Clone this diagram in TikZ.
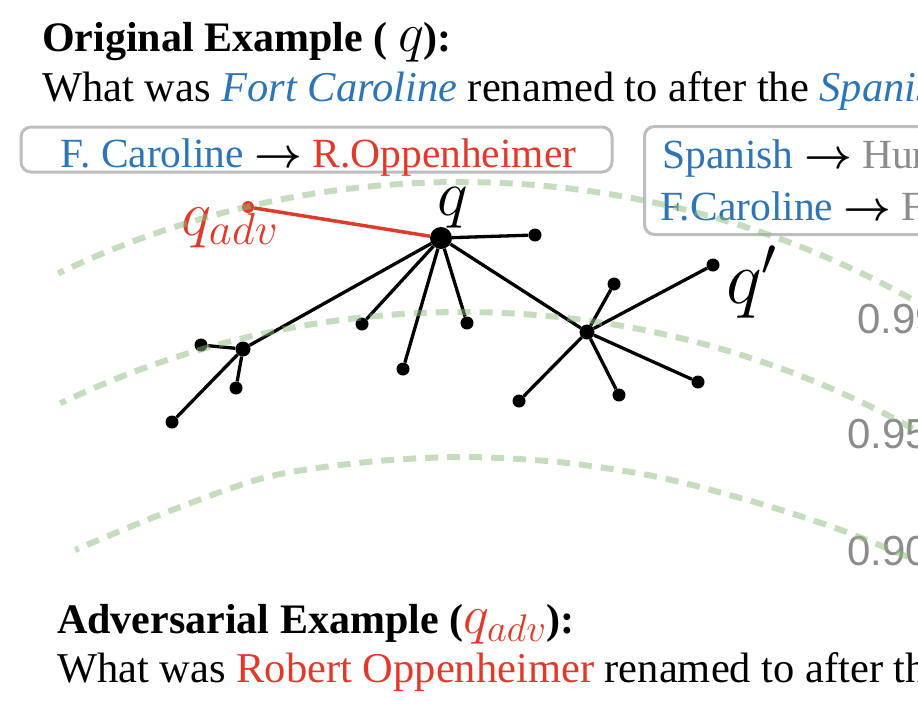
\RequirePackage{fix-cm}
\documentclass[tikz,border=0pt]{standalone}
\usepackage{fontspec}
\setmainfont{Liberation Serif}
\newfontfamily\labelfont{Liberation Sans}
\definecolor{myblue}{RGB}{46,117,182}
\definecolor{myred}{RGB}{224,58,42}
\definecolor{mygray}{RGB}{140,140,140}
\definecolor{boxgray}{RGB}{190,190,190}
\definecolor{arcgreen}{RGB}{140,188,126}
\newcommand{\bigmath}[1]{{\fontsize{55}{60}\selectfont$#1$}}
\newcommand{\myarrow}{{\boldmath$\rightarrow$}}
\begin{document}
\begin{tikzpicture}[x=1pt,y=-1pt,
  leaf/.style={circle,fill=black,inner sep=0pt,minimum size=13pt},
  hub/.style={circle,fill=black,inner sep=0pt,minimum size=15pt},
  center/.style={circle,fill=black,inner sep=0pt,minimum size=22pt},
  advdot/.style={circle,fill=myred,inner sep=0pt,minimum size=12pt},
  edge/.style={line width=3.3pt,black},
  advedge/.style={line width=3.5pt,myred},
  arcline/.style={line width=6pt,arcgreen,opacity=0.5,dash pattern=on 13pt off 9pt},
  boxline/.style={draw=boxgray,line width=3pt,rounded corners=10pt},
  txt/.style={anchor=base west,inner sep=0pt,font=\fontsize{42.5}{50}\selectfont},
  head/.style={anchor=base west,inner sep=0pt,font=\fontsize{42}{50}\selectfont\bfseries},
  boxtxt/.style={anchor=base west,inner sep=0pt,font=\fontsize{41.5}{50}\selectfont},
  simtxt/.style={anchor=base west,inner sep=0pt,text=mygray,font=\fontsize{42}{50}\selectfont\labelfont},
  mathlab/.style={anchor=base west,inner sep=0pt}
]
\useasboundingbox (0,0) rectangle (918,724);
\clip (0,0) rectangle (918,724);

% texts
\node[head] (h1) at (42,51) {Original Example ( \bigmath{q}):};
\node[txt] (l1) at (42,101) {What was \textcolor{myblue}{\textit{Fort Caroline}} renamed to after the \textcolor{myblue}{\textit{Spanish}}};
\node[head] (h2) at (57,633) {Adversarial Example (\textcolor{myred}{\bigmath{q_{adv}}}):};
\node[txt] (l2) at (57,682) {What was \textcolor{myred}{Robert Oppenheimer} renamed to after the Spanish};

% boxes
\node[boxline,minimum width=591pt,minimum height=45pt,inner sep=0pt] (b1) at (316.5,149.5) {};
\node[boxtxt,anchor=base] (b1t) at (318.5,167) {\textcolor{myblue}{F. Caroline} \myarrow\ \textcolor{myred}{R.Oppenheimer}};
\node[boxline,minimum width=320pt,minimum height=108pt,inner sep=0pt,anchor=north west] (b2) at (643,125) {};
\node[boxtxt] (b2a) at (662,168) {\textcolor{myblue}{Spanish} \myarrow\ \textcolor{mygray}{Hungarian}};
\node[boxtxt] (b2b) at (660,220) {\textcolor{myblue}{F.Caroline} \myarrow\ \textcolor{mygray}{Florida}};

% similarity labels
\node[simtxt] (s1) at (857,333) {0.99};
\node[simtxt] (s2) at (847,448) {0.95};
\node[simtxt] (s3) at (847,565) {0.90};

% graph nodes
\node[center] (q) at (441,238) {};
\node[advdot] (qa) at (248,207) {};
\node[leaf] (n1) at (535,235) {};
\node[leaf] (n2) at (362,324) {};
\node[leaf] (n3) at (403,369) {};
\node[leaf] (n4) at (467,323) {};
\node[hub] (hL) at (243,349) {};
\node[hub] (hR) at (587,332) {};
\node[leaf] (L1) at (201,345) {};
\node[leaf] (L2) at (236,388) {};
\node[leaf] (L3) at (172,422) {};
\node[leaf] (R1) at (614,284) {};
\node[leaf] (R2) at (713,265) {};
\node[leaf] (R3) at (519,401) {};
\node[leaf] (R4) at (619,395) {};
\node[leaf] (R5) at (698,382) {};

\foreach \t in {n1,n2,n3,n4,hL,hR} \draw[edge] (q) -- (\t);
\foreach \t in {L1,L2,L3} \draw[edge] (hL) -- (\t);
\foreach \t in {R1,R2,R3,R4,R5} \draw[edge] (hR) -- (\t);
\draw[advedge] (qa) -- (q);

% labels
\node[mathlab,font=\fontsize{65}{70}\selectfont] (lq) at (437,215) {$q$};
\node[mathlab,font=\fontsize{76}{80}\selectfont] (lqp) at (726,303) {$q'$};
\node[mathlab,font=\fontsize{64}{70}\selectfont,text=myred] (lqa) at (181,235) {$q_{adv}$};

% similarity contours
\draw[arcline] plot[domain=61:115.6,samples=90] ({460+930*cos(\x)},{1112-930*sin(\x)});
\draw[arcline] plot[domain=61:115.6,samples=90] ({462+930*cos(\x)},{1242-930*sin(\x)});
\draw[arcline] plot[smooth] coordinates {(908,557) (841,530) (758,503) (658,477) (558,462) (462,457) (367,462) (267,477) (167,512) (75,550)};
\end{tikzpicture}
\end{document}
